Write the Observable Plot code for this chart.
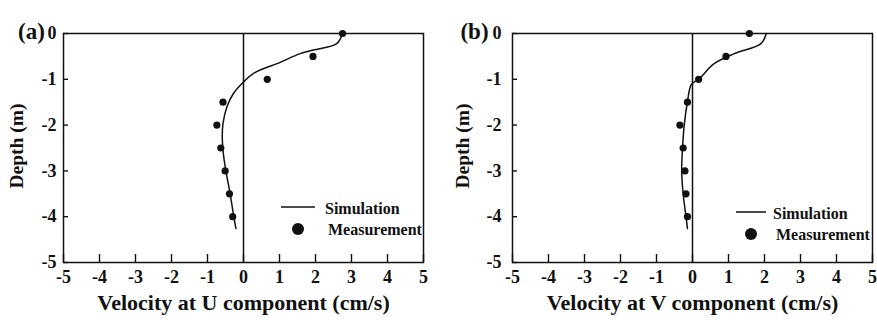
<!DOCTYPE html>
<html>
<head>
<meta charset="utf-8">
<script src="https://cdn.jsdelivr.net/npm/d3@7"></script>
<script src="https://cdn.jsdelivr.net/npm/@observablehq/plot@0.6"></script>
<style>
  html, body { margin: 0; padding: 0; background: #fff; }
  #wrap { position: relative; width: 877px; height: 322px; font-family: "Liberation Serif", "Times New Roman", serif; }
  #wrap > svg, #wrap > div { position: absolute; top: 0; }
  .legend { position: absolute; }
  #wrap svg text { font-family: "Liberation Serif", "Times New Roman", serif; font-weight: bold; }
  #wrap svg g[aria-label$="tick label"] { font-size: 18px !important; }
  #wrap svg g[aria-label$="tick label"] text { font-size: 18px !important; }
</style>
</head>
<body>
<div id="wrap"></div>
<script>
// ---- data ----
const measDepth = [0, -0.5, -1, -1.5, -2, -2.5, -3, -3.5, -4];
const uMeas = [2.75, 1.93, 0.66, -0.57, -0.74, -0.63, -0.51, -0.39, -0.30];
const vMeas = [1.58, 0.93, 0.17, -0.14, -0.35, -0.26, -0.21, -0.18, -0.14];

const uSimDepth = [0, -0.22, -0.36, -0.44, -0.63, -0.87, -1.06, -1.31, -1.6, -1.97, -2.26, -2.62, -3, -3.5, -4, -4.26];
const uSim = [2.75, 2.59, 1.94, 1.57, 1.02, 0.28, 0, -0.28, -0.46, -0.57, -0.59, -0.56, -0.49, -0.37, -0.27, -0.21];

const vSimDepth = [0, -0.22, -0.44, -0.66, -1, -1.11, -1.49, -2, -2.55, -3, -3.5, -4, -4.26];
const vSim = [2.05, 1.9, 1.16, 0.6, 0.17, -0.03, -0.14, -0.23, -0.28, -0.3, -0.26, -0.18, -0.14];

const xTicks = [-5, -4, -3, -2, -1, 0, 1, 2, 3, 4, 5];
const yTicks = [0, -1, -2, -3, -4, -5];
const panelLabels = ["(a)", "(b)"];
const xLabels = ["Velocity at U component (cm/s)", "Velocity at V component (cm/s)"];
const yLabel = "Depth (m)";
const legendLabels = ["Simulation", "Measurement"];

const wrap = document.getElementById("wrap");
const font = "Liberation Serif, Times New Roman, serif";
const fmt = d => d < 0 ? "-" + Math.abs(d) : String(d);

function panel(meas, sim, simDepth, idx, opts) {
  const measData = meas.map((v, i) => ({x: v, y: measDepth[i]}));
  const simData = sim.map((v, i) => ({x: v, y: simDepth[i]}));
  const t = {fontFamily: font, fontWeight: "bold", fill: "#111"};
  return Plot.plot({
    width: opts.width,
    height: 322,
    marginLeft: opts.marginLeft,
    marginRight: opts.marginRight,
    marginTop: 33,
    marginBottom: 60,
    style: "font-family: 'Liberation Serif', 'Times New Roman', serif; font-size: 18px; font-weight: bold; background: transparent; color: #111;",
    x: {domain: [-5, 5], ticks: xTicks},
    y: {domain: [-5, 0], ticks: yTicks},
    marks: [
      Plot.axisX({ticks: xTicks, tickSize: 0, tickPadding: 8, label: null, fontSize: 18, ...t, tickFormat: fmt}),
      Plot.axisX({ticks: xTicks, tickSize: -8, text: null, label: null, strokeWidth: 1.4}),
      Plot.axisY({ticks: yTicks, tickSize: 0, tickPadding: opts.yPad, label: null, fontSize: 18, ...t, tickFormat: fmt}),
      Plot.axisY({ticks: yTicks, tickSize: -5, text: null, label: null, strokeWidth: 1.4}),
      Plot.frame({stroke: "#111", strokeWidth: 1.5}),
      Plot.ruleX([0], {stroke: "#111", strokeWidth: 1.5}),
      Plot.line(simData, {x: "x", y: "y", curve: "catmull-rom", stroke: "#111", strokeWidth: 1.5}),
      Plot.dot(measData, {x: "x", y: "y", r: 3.6, fill: "#111", stroke: "none"}),
      Plot.text([panelLabels[idx]], {frameAnchor: "top-left", textAnchor: "middle", dx: opts.labDx, dy: -11, fontSize: 23, ...t}),
      Plot.text([xLabels[idx]], {frameAnchor: "bottom", textAnchor: "middle", dy: 47, fontSize: 22, ...t}),
      Plot.text([yLabel], {frameAnchor: "left", textAnchor: "middle", dx: opts.yLabDx, dy: -2, rotate: -90, fontSize: 19.5, ...t})
    ]
  });
}

const a = panel(uMeas, uSim, uSimDepth, 0, {width: 440, marginLeft: 63, marginRight: 17, yPad: 7, labDx: -32, yLabDx: -47});
a.style.left = "0px";
wrap.appendChild(a);
const b = panel(vMeas, vSim, vSimDepth, 1, {width: 437, marginLeft: 72, marginRight: 5, yPad: 11, labDx: -38, yLabDx: -50});
b.style.left = "440px";
wrap.appendChild(b);

// legends
function legend(left, top, lineW, gapLine, dotX) {
  const div = document.createElement("div");
  div.className = "legend";
  div.style.left = left + "px";
  div.style.top = top + "px";
  div.innerHTML =
    `<svg width="150" height="40" style="overflow:visible">
       <line x1="0" x2="${lineW}" y1="6" y2="6" stroke="#111" stroke-width="1.5"/>
       <text x="${gapLine}" y="13" font-size="16" font-weight="bold" fill="#111">${legendLabels[0]}</text>
       <circle cx="${dotX}" cy="28" r="6" fill="#111"/>
       <text x="${gapLine + 3}" y="34" font-size="16" font-weight="bold" fill="#111">${legendLabels[1]}</text>
     </svg>`;
  wrap.appendChild(div);
}
legend(281, 201, 34, 44, 17);
legend(736, 206, 30, 37, 15);
</script>
</body>
</html>
